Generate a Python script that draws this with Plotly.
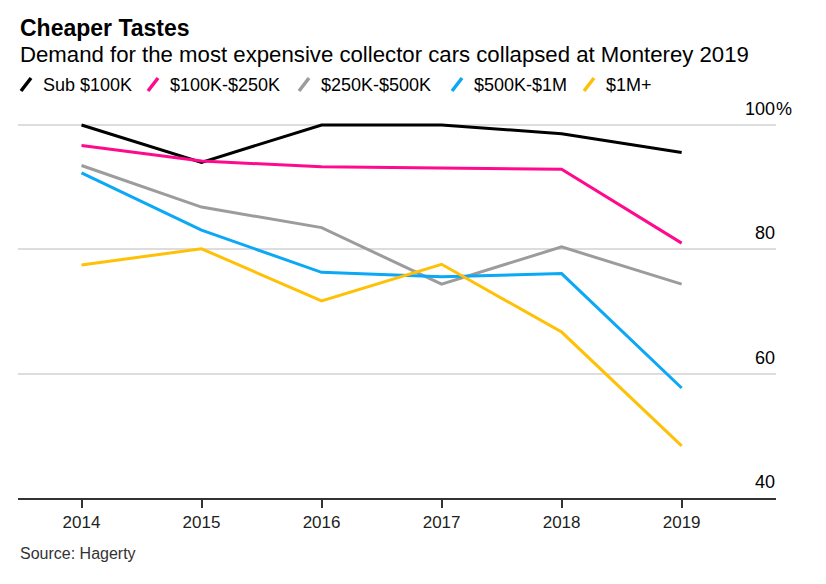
import plotly.graph_objects as go

# ---- data ----
years = [2014, 2015, 2016, 2017, 2018, 2019]
series_names = ["Sub $100K", "$100K-$250K", "$250K-$500K", "$500K-$1M", "$1M+"]
sub_100k = [100.0, 94.0, 100.0, 100.0, 98.6, 95.6]
k100_250 = [96.7, 94.2, 93.3, 93.1, 92.9, 81.0]
k250_500 = [93.5, 86.8, 83.5, 74.4, 80.4, 74.4]
k500_1m = [92.3, 83.1, 76.3, 75.6, 76.1, 57.7]
m1_plus = [77.5, 80.1, 71.7, 77.6, 66.7, 48.4]
y_ticks = [40, 60, 80, 100]
y_tick_labels = ["40", "60", "80", "100"]
x_tick_labels = ["2014", "2015", "2016", "2017", "2018", "2019"]

title = "Cheaper Tastes"
subtitle = "Demand for the most expensive collector cars collapsed at Monterey 2019"
source = "Source: Hagerty"

# ---- style ----
colors = ["#000000", "#ff0a8c", "#9c9c9c", "#0aa8f5", "#ffc107"]
FONT = "Liberation Sans, Arial, Helvetica, sans-serif"
W, H = 826, 584
L, R, T, B = 18, 776, 112, 498


def px(x):
    return (x - L) / (R - L)


def py(y):
    return (B - y) / (B - T)


fig = go.Figure()
all_series = [sub_100k, k100_250, k250_500, k500_1m, m1_plus]
for name, vals, col in zip(series_names, all_series, colors):
    fig.add_trace(go.Scatter(
        x=years, y=vals, name=name, mode="lines",
        line=dict(color=col, width=3),
        showlegend=False,
    ))

annotations = []
shapes = []

# title, subtitle, source
annotations.append(dict(text="<b>" + title + "</b>", x=px(18), y=py(28), xref="paper", yref="paper",
                        xanchor="left", yanchor="middle", showarrow=False,
                        font=dict(family=FONT, size=23, color="#000000")))
annotations.append(dict(text=subtitle, x=px(18), y=py(55), xref="paper", yref="paper",
                        xanchor="left", yanchor="middle", showarrow=False,
                        font=dict(family=FONT, size=22.2, color="#000000")))
annotations.append(dict(text=source, x=px(18), y=py(553), xref="paper", yref="paper",
                        xanchor="left", yanchor="middle", showarrow=False,
                        font=dict(family=FONT, size=16, color="#333333")))

# custom legend with slash symbols
legend_x = [19, 146, 297, 450, 582]
for lx, name, col in zip(legend_x, series_names, colors):
    shapes.append(dict(type="line", xref="paper", yref="paper",
                       x0=px(lx + 2), y0=py(91), x1=px(lx + 12), y1=py(78),
                       line=dict(color=col, width=3.5)))
    annotations.append(dict(text=name, x=px(lx + 22), y=py(85), xref="paper", yref="paper",
                            xanchor="left", yanchor="middle", showarrow=False,
                            font=dict(family=FONT, size=18, color="#000000")))

# y tick labels above gridlines, right-aligned
for v, lab in zip(y_ticks, y_tick_labels):
    annotations.append(dict(text=lab, x=px(777), y=v, xref="paper", yref="y",
                            xanchor="right", yanchor="middle", yshift=16, showarrow=False,
                            font=dict(family=FONT, size=18, color="#000000")))
annotations.append(dict(text="%", x=px(777), y=y_ticks[-1], xref="paper", yref="y",
                        xanchor="left", yanchor="middle", yshift=16, xshift=-3, showarrow=False,
                        font=dict(family=FONT, size=18, color="#000000")))

fig.update_layout(
    width=W, height=H,
    margin=dict(l=L, r=W - R, t=T, b=H - B, pad=0),
    paper_bgcolor="white", plot_bgcolor="white",
    annotations=annotations, shapes=shapes,
    xaxis=dict(range=[2013.471, 2019.786], tickvals=years, ticktext=x_tick_labels,
               showgrid=False, zeroline=False, showline=True, linecolor="#333333", linewidth=2,
               ticks="outside", ticklen=8, tickwidth=1.5, tickcolor="#333333",
               tickfont=dict(family=FONT, size=17, color="#222222")),
    yaxis=dict(range=[40, 102.1], tickvals=y_ticks, showticklabels=False,
               showgrid=True, gridcolor="#dddddd", gridwidth=1.5, zeroline=False,
               showline=False, ticks=""),
    showlegend=False,
)

fig.write_html("out.html", config={"displayModeBar": False},
               post_script="document.body.style.margin='0px';")
